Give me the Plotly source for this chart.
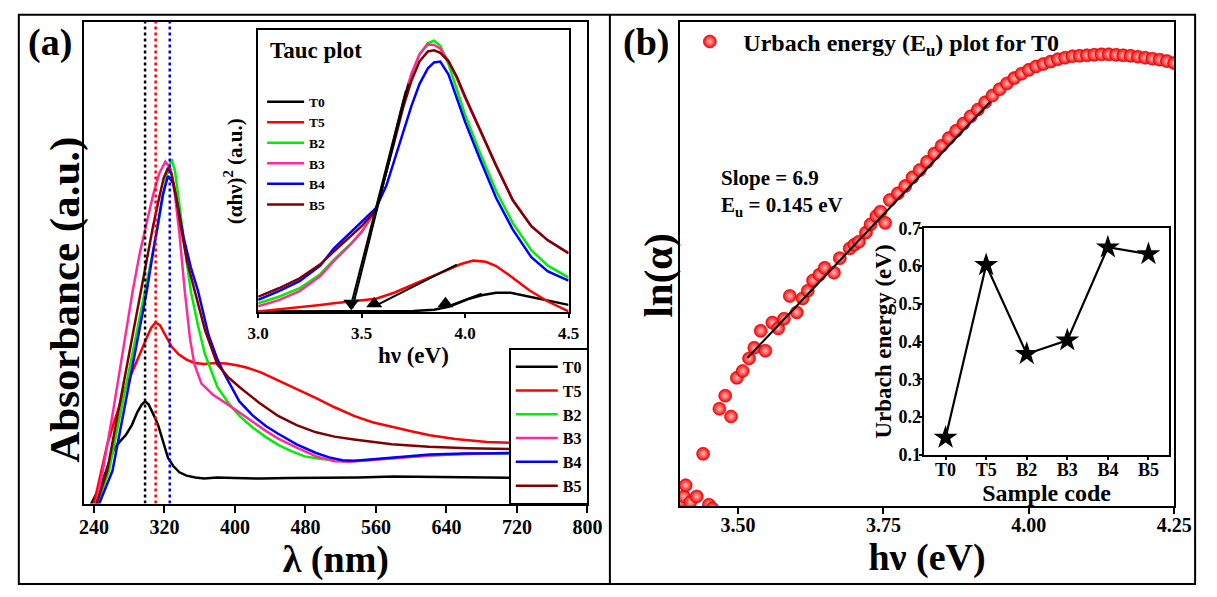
import plotly.graph_objects as go

W, H = 1217, 597
FONT = "Liberation Serif"

# ---------------- Panel (a): UV-vis absorbance (arbitrary units) ----------------
samples = ["T0", "T5", "B2", "B3", "B4", "B5"]
colors = ["#000000", "#ff0000", "#00ee00", "#ff2a9d", "#0000ff", "#800000"]

t0_wl = [229, 237, 244, 250, 257, 263, 270, 276, 283, 289, 294, 298, 302, 306, 310, 313, 318, 324,
         330, 337, 345, 355, 365, 380, 400, 430, 460, 500, 540, 580, 620, 660, 700, 740, 780, 800]
t0_abs = [-3, 0, 2.5, 4.8, 8.5, 11.5, 13.0, 14.2, 16.3, 18.9, 20.5, 21.2, 20.6, 19.2, 17.5, 16.2, 13.0, 9.5,
          7.8, 6.5, 5.8, 5.4, 5.2, 5.4, 5.3, 5.2, 5.3, 5.3, 5.4, 5.6, 5.5, 5.4, 5.3, 5.3, 5.2, 5.2]

t5_wl = [229, 240, 248, 255, 262, 269, 276, 285, 293, 300, 305, 310, 315, 320, 328, 336, 345, 354, 365,
         378, 390, 402, 414, 430, 449, 470, 492, 513, 535, 556, 578, 600, 621, 650, 686, 720, 760, 800]
t5_abs = [-5, 0, 6.5, 12.2, 16.5, 20.5, 24.2, 28.0, 31.6, 34.5, 36.5, 37.6, 37.0, 35.3, 32.6, 31.0, 29.9,
          29.2, 29.0, 29.2, 29.1, 28.7, 28.2, 27.2, 25.6, 23.8, 21.9, 20.0, 18.2, 16.9, 15.9, 15.0, 14.2,
          13.4, 12.8, 12.5, 12.3, 12.2]

b2_wl = [229, 244, 257, 270, 285, 298, 305, 312, 318, 323, 328, 332, 337, 343, 350, 358, 366, 380, 393,
         405, 420, 435, 449, 464, 479, 496, 513, 526, 540, 560, 580, 620, 660, 700, 750, 800]
b2_abs = [-12, 0, 6.8, 18.5, 32.0, 44.2, 50.0, 57.0, 63.5, 68.5, 71.5, 69.0, 62.0, 53.0, 44.0, 37.0, 31.0,
          24.2, 20.8, 18.2, 15.8, 13.8, 12.2, 10.9, 9.8, 9.3, 9.0, 8.8, 8.9, 9.2, 9.5, 10.0, 10.3, 10.5,
          10.6, 10.7]

b3_wl = [229, 242, 250, 262, 273, 284, 292, 300, 307, 314, 321, 327, 332, 337, 343, 349, 354, 362, 375,
         390, 405, 420, 435, 449, 470, 492, 513, 530, 545, 560, 580, 620, 660, 700, 750, 800]
b3_abs = [-12, 0, 6.8, 19.5, 32.0, 44.2, 52.0, 58.5, 64.0, 68.5, 71.0, 69.5, 64.0, 56.0, 44.2, 34.2, 28.9,
          24.9, 22.6, 20.8, 18.9, 16.9, 15.1, 13.5, 11.6, 9.8, 8.8, 8.7, 8.9, 9.2, 9.5, 10.0, 10.3, 10.5,
          10.7, 10.8]

b4_wl = [229, 246, 261, 274, 287, 300, 306, 312, 318, 324, 330, 336, 342, 350, 358, 370, 380, 388, 405,
         420, 435, 449, 470, 492, 507, 522, 535, 550, 578, 621, 660, 707, 760, 800]
b4_abs = [-12, 0, 6.8, 19.5, 32.0, 44.2, 51.0, 58.0, 64.0, 68.0, 66.5, 61.0, 55.0, 49.0, 44.2, 35.0, 30.0,
          26.9, 21.2, 18.3, 16.1, 14.5, 12.3, 10.5, 9.6, 9.0, 8.9, 9.1, 9.5, 10.2, 10.4, 10.5, 10.5, 10.5]

b5_wl = [229, 243, 255, 268, 281, 293, 300, 307, 314, 319, 324, 328, 333, 339, 346, 354, 366, 380, 392,
         405, 427, 449, 470, 492, 513, 535, 556, 578, 620, 664, 720, 760, 800]
b5_abs = [-12, 0, 6.8, 19.5, 32.0, 44.2, 50.5, 57.5, 63.5, 67.5, 69.7, 68.5, 64.0, 57.0, 50.0, 44.2, 36.0,
          28.9, 26.3, 24.2, 21.0, 18.2, 16.3, 14.8, 13.9, 13.3, 12.8, 12.3, 11.8, 11.5, 11.3, 11.2, 11.2]

peak_marks = [298, 310, 326]
peak_colors = ["#000000", "#ff0000", "#0000ff"]
wl_ticks = [240, 320, 400, 480, 560, 640, 720, 800]

# ---------------- Inset: Tauc plot ----------------
tauc_t0_e = [3.0, 3.2, 3.4, 3.6, 3.75, 3.85, 3.92, 3.97, 4.02, 4.08, 4.15, 4.22, 4.31, 4.4, 4.5]
tauc_t0 = [0.3, 0.3, 0.3, 0.3, 0.4, 0.9, 1.9, 3.3, 4.8, 6.0, 6.9, 6.9, 5.5, 4.0, 2.6]

tauc_t5_e = [3.0, 3.1, 3.2, 3.3, 3.365, 3.45, 3.57, 3.66, 3.758, 3.84, 3.915, 3.98, 4.04, 4.1, 4.15,
             4.22, 4.31, 4.4, 4.5]
tauc_t5 = [0.3, 1.0, 1.8, 2.6, 3.2, 3.8, 4.8, 7.0, 10.1, 12.8, 15.2, 17.1, 18.3, 17.9, 16.4, 12.8, 7.8,
           3.8, 0.3]

tauc_b_e = [3.0, 3.1, 3.2, 3.3, 3.365, 3.45, 3.5, 3.57, 3.62, 3.66, 3.70, 3.74, 3.78, 3.82, 3.85, 3.88,
            3.92, 3.96, 4.0, 4.07, 4.15, 4.23, 4.32, 4.4, 4.5]
tauc_b2 = [3.2, 5.5, 8.5, 13.5, 18.6, 24.5, 28.5, 36.3, 50.0, 62.0, 74.0, 84.0, 91.5, 95.5, 96.3, 94.5,
           88.0, 79.0, 70.0, 56.9, 43.0, 31.7, 22.0, 16.5, 12.3]
tauc_b3 = [2.1, 4.3, 7.5, 12.8, 18.1, 24.3, 28.5, 36.3, 50.5, 62.5, 74.5, 84.5, 91.5, 95.0, 94.8, 93.5,
           89.0, 83.0, 76.0, 64.9, 52.0, 39.8, 30.5, 25.5, 20.9]
tauc_b4 = [4.4, 7.5, 11.0, 16.5, 22.6, 28.5, 32.0, 37.0, 45.0, 54.6, 64.0, 73.0, 81.0, 86.5, 88.6, 88.9,
           84.3, 76.0, 67.5, 54.6, 40.5, 29.4, 19.5, 14.5, 11.2]
tauc_b5 = [5.5, 8.5, 12.0, 17.0, 21.5, 27.0, 30.5, 36.3, 49.5, 61.0, 72.5, 82.0, 89.0, 92.5, 92.9, 92.0,
           89.0, 83.5, 76.5, 64.9, 52.0, 39.8, 30.5, 25.5, 20.9]

# tangent (extrapolation) lines
tangent_a_e = [3.714, 3.445]
tangent_a_v = [78.6, 1.4]
tangent_b_e = [3.726, 3.455]
tangent_b_v = [81.0, 1.4]
tangent_t5_e = [3.561, 3.96]
tangent_t5_v = [2.1, 16.9]
tangent_t0_e = [3.905, 4.08]
tangent_t0_v = [1.8, 6.6]
gap_down_e, gap_down_v = [3.45], [3.2]
gap_up_e, gap_up_v = [3.561, 3.905], [3.0, 3.0]
tauc_ticks = [3.0, 3.5, 4.0, 4.5]

# ---------------- Panel (b): Urbach plot for T0 ----------------
urb_e = [3.402, 3.407, 3.410, 3.418, 3.429, 3.440, 3.450, 3.456, 3.468, 3.478, 3.488, 3.498, 3.508,
         3.519, 3.528, 3.539, 3.547, 3.559, 3.569, 3.579, 3.589, 3.601, 3.611, 3.620, 3.629, 3.640,
         3.649, 3.665, 3.675, 3.692, 3.700, 3.708, 3.720, 3.728, 3.738, 3.745, 3.753, 3.761, 3.775,
         3.7875, 3.800, 3.8125, 3.825, 3.8375, 3.850, 3.8625, 3.875, 3.8875, 3.900, 3.9125, 3.925,
         3.9375, 3.950, 3.9625, 3.975, 3.9875, 4.000, 4.0125, 4.025, 4.0375, 4.050, 4.0625, 4.075,
         4.0875, 4.100, 4.1125, 4.125, 4.1375, 4.150, 4.1625, 4.175, 4.1875, 4.200, 4.2125, 4.225,
         4.2375, 4.250]
urb_ln = [1.0, 2.0, 4.3, 0.8, 2.0, 10.8, 0.3, -0.5, 20.1, 22.8, 18.5, 26.5, 27.9, 30.5, 32.7, 36.2, 32.1,
          37.9, 36.7, 38.7, 43.4, 40.0, 42.9, 44.5, 46.6, 47.8, 49.2, 48.2, 51.2, 53.2, 54.0, 54.6, 56.5,
          58.2, 59.9, 60.8, 58.5, 63.2, 64.6, 66.1, 67.9, 69.4, 71.1, 72.8, 74.4, 76.0, 77.5, 79.0, 80.5,
          81.9, 83.4, 84.8, 86.1, 87.3, 88.4, 89.3, 90.1, 90.8, 91.3, 91.8, 92.3, 92.6, 92.9, 93.0, 93.1,
          93.2, 93.3, 93.3, 93.2, 93.1, 93.0, 92.8, 92.6, 92.4, 92.2, 91.9, 91.5]
fit_e = [3.516, 3.934]
fit_ln = [30.6, 83.5]
e_ticks = [3.50, 3.75, 4.00, 4.25]

# ---------------- Inset (b): Urbach energy per sample ----------------
urbach_energy = [0.145, 0.603, 0.367, 0.403, 0.650, 0.632]
ue_ticks = [0.1, 0.2, 0.3, 0.4, 0.5, 0.6, 0.7]

fig = go.Figure()

main_data = [(t0_wl, t0_abs), (t5_wl, t5_abs), (b2_wl, b2_abs), (b3_wl, b3_abs), (b4_wl, b4_abs), (b5_wl, b5_abs)]
for name, col, (xs, ys) in zip(samples, colors, main_data):
    fig.add_trace(go.Scatter(x=xs, y=ys, mode="lines", name=name, line=dict(color=col, width=2.5),
                             xaxis="x", yaxis="y", legend="legend"))
for xv, col in zip(peak_marks, peak_colors):
    fig.add_trace(go.Scatter(x=[xv, xv], y=[0, 100], mode="lines", showlegend=False,
                             line=dict(color=col, width=2.5, dash="dot"), xaxis="x", yaxis="y"))

tauc_data = [(tauc_t0_e, tauc_t0), (tauc_t5_e, tauc_t5), (tauc_b_e, tauc_b2), (tauc_b_e, tauc_b3),
             (tauc_b_e, tauc_b4), (tauc_b_e, tauc_b5)]
for name, col, (xs, ys) in zip(samples, colors, tauc_data):
    fig.add_trace(go.Scatter(x=xs, y=ys, mode="lines", name=name, line=dict(color=col, width=2.5),
                             xaxis="x2", yaxis="y2", legend="legend2"))
for xs, ys in [(tangent_a_e, tangent_a_v), (tangent_b_e, tangent_b_v), (tangent_t5_e, tangent_t5_v),
               (tangent_t0_e, tangent_t0_v)]:
    fig.add_trace(go.Scatter(x=xs, y=ys, mode="lines", showlegend=False, line=dict(color="black", width=2),
                             xaxis="x2", yaxis="y2"))
fig.add_trace(go.Scatter(x=gap_down_e, y=gap_down_v, mode="markers", showlegend=False,
                         marker=dict(symbol="triangle-down", size=14, color="black"), xaxis="x2", yaxis="y2"))
fig.add_trace(go.Scatter(x=gap_up_e, y=gap_up_v, mode="markers", showlegend=False,
                         marker=dict(symbol="triangle-up", size=14, color="black"), xaxis="x2", yaxis="y2"))

fig.add_trace(go.Scatter(x=urb_e, y=urb_ln, mode="markers", name="Urbach energy (E<sub>u</sub>) plot for T0",
                         marker=dict(size=13, color="#ff0000", line=dict(color="#c80000", width=0.6),
                                     gradient=dict(type="radial", color="#ffc0c0")),
                         xaxis="x3", yaxis="y3", legend="legend3"))
fig.add_trace(go.Scatter(x=fit_e, y=fit_ln, mode="lines", showlegend=False, line=dict(color="black", width=2),
                         xaxis="x3", yaxis="y3"))

fig.add_trace(go.Scatter(x=list(range(len(samples))), y=urbach_energy, mode="lines+markers", showlegend=False,
                         line=dict(color="black", width=2.2), marker=dict(symbol="star", size=18, color="black"),
                         xaxis="x4", yaxis="y4"))

axis_common = dict(showline=True, linecolor="black", linewidth=2, mirror=True, showgrid=False,
                   zeroline=False, tickcolor="black", tickwidth=2)


def px_x(p):
    return p / W


def px_y(p):
    return 1 - p / H


fig.update_layout(
    width=W, height=H, autosize=False,
    margin=dict(l=0, r=0, t=0, b=0),
    paper_bgcolor="white", plot_bgcolor="white",
    font=dict(family=FONT, color="black", weight="bold", size=16),
    xaxis=dict(domain=[px_x(75), px_x(590)], range=[229, 800], anchor="y", tickvals=wl_ticks,
               ticks="outside", ticklen=7, ticklabelstandoff=-3, tickfont=dict(size=20),
               title=dict(text="λ (nm)", font=dict(size=38), standoff=5), **axis_common),
    yaxis=dict(domain=[px_y(510.7), px_y(12.3)], range=[0, 100], anchor="x", showticklabels=False,
               ticks="", **axis_common),
    xaxis2=dict(domain=[px_x(253), px_x(570.7)], range=[3.0, 4.5], anchor="y2", tickvals=tauc_ticks,
                ticktext=["3.0", "3.5", "4.0", "4.5"], ticks="outside", ticklen=4, tickfont=dict(size=17),
                title=dict(text="hν (eV)", font=dict(size=23), standoff=5), **axis_common),
    yaxis2=dict(domain=[px_y(312.7), px_y(21)], range=[0, 100], anchor="x2", showticklabels=False, ticks="",
                title=dict(text="(αhν)<sup>2</sup> (a.u.)", font=dict(size=21), standoff=8), **axis_common),
    xaxis3=dict(domain=[px_x(684.6), px_x(1190.6)], range=[3.40, 4.25], anchor="y3", tickvals=e_ticks,
                ticktext=["3.50", "3.75", "4.00", "4.25"], ticks="outside", ticklen=6, ticklabelstandoff=-6,
                tickfont=dict(size=20),
                title=dict(text="hν (eV)", font=dict(size=38), standoff=2), **axis_common),
    yaxis3=dict(domain=[px_y(513.3), px_y(12.3)], range=[0, 100], anchor="x3", showticklabels=False, ticks="",
                **axis_common),
    xaxis4=dict(domain=[px_x(935), px_x(1185)], range=[-0.52, 5.5], anchor="y4",
                tickvals=list(range(len(samples))), ticktext=samples, ticks="outside", ticklen=3,
                ticklabelstandoff=-5, tickfont=dict(size=18),
                title=dict(text="Sample code", font=dict(size=24), standoff=1), **axis_common),
    yaxis4=dict(domain=[px_y(460), px_y(226)], range=[0.1, 0.7], anchor="x4", tickvals=ue_ticks,
                tickformat=".1f", ticks="outside", ticklen=3, ticklabelstandoff=-5, tickfont=dict(size=18),
                title=dict(text="Urbach energy (eV)", font=dict(size=23), standoff=0), **axis_common),
    legend=dict(x=px_x(510), y=px_y(350), xanchor="left", yanchor="top", bgcolor="white",
                bordercolor="black", borderwidth=1.5, font=dict(size=16), itemwidth=42,
                tracegroupgap=0),
    legend2=dict(x=px_x(257), y=px_y(79), xanchor="left", yanchor="top", bgcolor="rgba(0,0,0,0)",
                 borderwidth=0, font=dict(size=13.5), itemwidth=37, tracegroupgap=0),
    legend3=dict(x=px_x(681), y=px_y(33), xanchor="left", yanchor="middle", bgcolor="rgba(0,0,0,0)",
                 borderwidth=0, font=dict(size=24), itemwidth=57),
    shapes=[
        dict(type="rect", xref="paper", yref="paper", x0=px_x(8), x1=px_x(1212), y0=px_y(594), y1=px_y(5),
             line=dict(color="black", width=2)),
        dict(type="line", xref="paper", yref="paper", x0=px_x(613), x1=px_x(613), y0=px_y(594), y1=px_y(5),
             line=dict(color="black", width=2)),
    ],
    annotations=[
        dict(text="Absorbance (a.u.)", x=px_x(55), y=px_y(300), xref="paper", yref="paper", showarrow=False,
             textangle=-90, font=dict(size=43), xanchor="center", yanchor="middle"),
        dict(text="ln(α)", x=px_x(662), y=px_y(275), xref="paper", yref="paper", showarrow=False,
             textangle=-90, font=dict(size=41), xanchor="center", yanchor="middle"),
        dict(text="(a)", x=px_x(40), y=px_y(34), xref="paper", yref="paper", showarrow=False,
             font=dict(size=38), xanchor="center", yanchor="middle"),
        dict(text="(b)", x=px_x(650), y=px_y(34), xref="paper", yref="paper", showarrow=False,
             font=dict(size=38), xanchor="center", yanchor="middle"),
        dict(text="Tauc plot", x=px_x(263), y=px_y(42), xref="paper", yref="paper", showarrow=False,
             font=dict(size=23), xanchor="left", yanchor="middle"),
        dict(text="Slope = 6.9<br>E<sub>u</sub> = 0.145 eV", x=px_x(725), y=px_y(189), xref="paper",
             yref="paper", showarrow=False, font=dict(size=21), xanchor="left", yanchor="middle", align="left"),
    ],
)

fig.write_html("out.html")
